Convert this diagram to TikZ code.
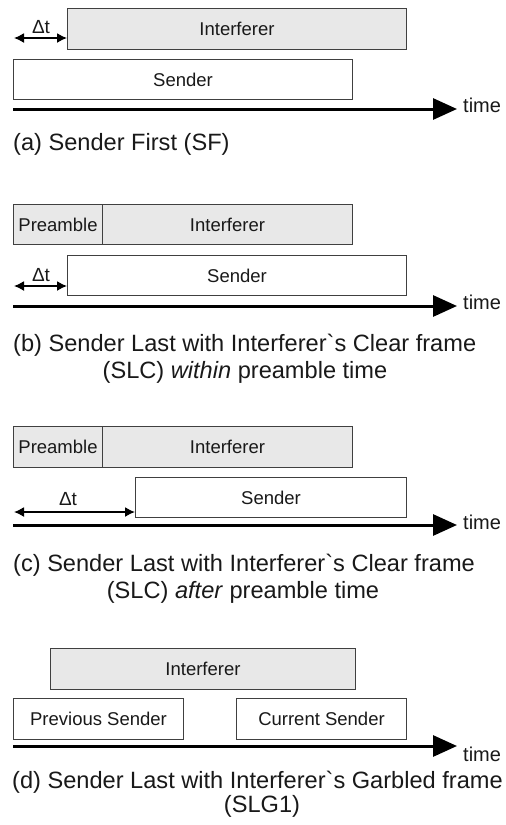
\documentclass[tikz,border=0pt]{standalone}
\usepackage{fontspec}
\setmainfont{Liberation Sans}
\usetikzlibrary{arrows.meta}
\begin{document}
\begin{tikzpicture}[x=1pt,y=-1pt,
  frame/.style={draw=black!75, line width=1pt, anchor=north west, inner sep=0pt,
    font=\fontsize{18.5}{21}\selectfont, text=black!90},
  grayframe/.style={frame, fill=black!9},
  whiteframe/.style={frame, fill=white},
  axis/.style={line width=3pt, -{Triangle[length=24pt,width=21pt]}},
  dtarrow/.style={line width=1.5pt, {Latex[length=10pt,width=10pt]}-{Latex[length=10pt,width=10pt]}},
  lbl/.style={font=\fontsize{19}{22}\selectfont, text=black!90, inner sep=0pt},
  timelbl/.style={font=\fontsize{20}{22}\selectfont, text=black!90, inner sep=0pt, anchor=west},
  captxt/.style={font=\fontsize{23.6}{28}\selectfont, text=black!90, inner sep=0pt}
]
\useasboundingbox[fill=white] (0,0) rectangle (506,825);

% ---------- (a) ----------
\node[grayframe, minimum width=339pt, minimum height=41pt] (ia) at (67,8) {Interferer};
\node[whiteframe, minimum width=339pt, minimum height=40pt] (sa) at (13,59) {Sender};
\coordinate (da0) at (14,38);
\coordinate (da1) at (67,38);
\draw[dtarrow] (da0) -- (da1);
\node[lbl] (dta) at (41,27) {Δt};
\coordinate (xa0) at (13,109);
\coordinate (xa1) at (457,109);
\draw[axis] (xa0) -- (xa1);
\node[timelbl] (ta) at (463,105) {time};
\node[captxt, anchor=west] (ca) at (13,144) {(a) Sender First (SF)};

% ---------- (b) ----------
\node[grayframe, minimum width=89pt, minimum height=40pt] (pb) at (13,204) {Preamble};
\node[grayframe, minimum width=250pt, minimum height=40pt] (ib) at (102,204) {Interferer};
\node[whiteframe, minimum width=339pt, minimum height=40pt] (sb) at (67,255) {Sender};
\coordinate (db0) at (14,286);
\coordinate (db1) at (67,286);
\draw[dtarrow] (db0) -- (db1);
\node[lbl] (dtb) at (41,275) {Δt};
\coordinate (xb0) at (13,306);
\coordinate (xb1) at (457,306);
\draw[axis] (xb0) -- (xb1);
\node[timelbl] (tb) at (463,302) {time};
\node[captxt, anchor=west] (cb1) at (13,345) {(b) Sender Last with Interferer\textasciigrave s Clear frame};
\node[captxt] (cb2) at (245,372) {(SLC) \textit{within} preamble time};

% ---------- (c) ----------
\node[grayframe, minimum width=89pt, minimum height=41pt] (pc) at (13,426) {Preamble};
\node[grayframe, minimum width=250pt, minimum height=41pt] (ic) at (102,426) {Interferer};
\node[whiteframe, minimum width=271pt, minimum height=40pt] (sc) at (135,477) {Sender};
\coordinate (dc0) at (14,512);
\coordinate (dc1) at (135,512);
\draw[dtarrow] (dc0) -- (dc1);
\node[lbl] (dtc) at (68,499) {Δt};
\coordinate (xc0) at (13,525);
\coordinate (xc1) at (457,525);
\draw[axis] (xc0) -- (xc1);
\node[timelbl] (tc) at (463,522) {time};
\node[captxt, anchor=west] (cc1) at (13,565) {(c) Sender Last with Interferer\textasciigrave s Clear frame};
\node[captxt] (cc2) at (243,592) {(SLC) \textit{after} preamble time};

% ---------- (d) ----------
\node[grayframe, minimum width=305pt, minimum height=41pt] (id) at (50,648) {Interferer};
\node[whiteframe, minimum width=170pt, minimum height=41pt] (psd) at (13,698) {Previous Sender};
\node[whiteframe, minimum width=170pt, minimum height=41pt] (csd) at (236,698) {Current Sender};
\coordinate (xd0) at (13,746);
\coordinate (xd1) at (457,746);
\draw[axis] (xd0) -- (xd1);
\node[timelbl] (td) at (463,754) {time};
\node[captxt, anchor=west] (cd1) at (12,782) {(d) Sender Last with Interferer\textasciigrave s Garbled frame};
\node[captxt] (cd2) at (262,806) {(SLG1)};
\end{tikzpicture}
\end{document}
